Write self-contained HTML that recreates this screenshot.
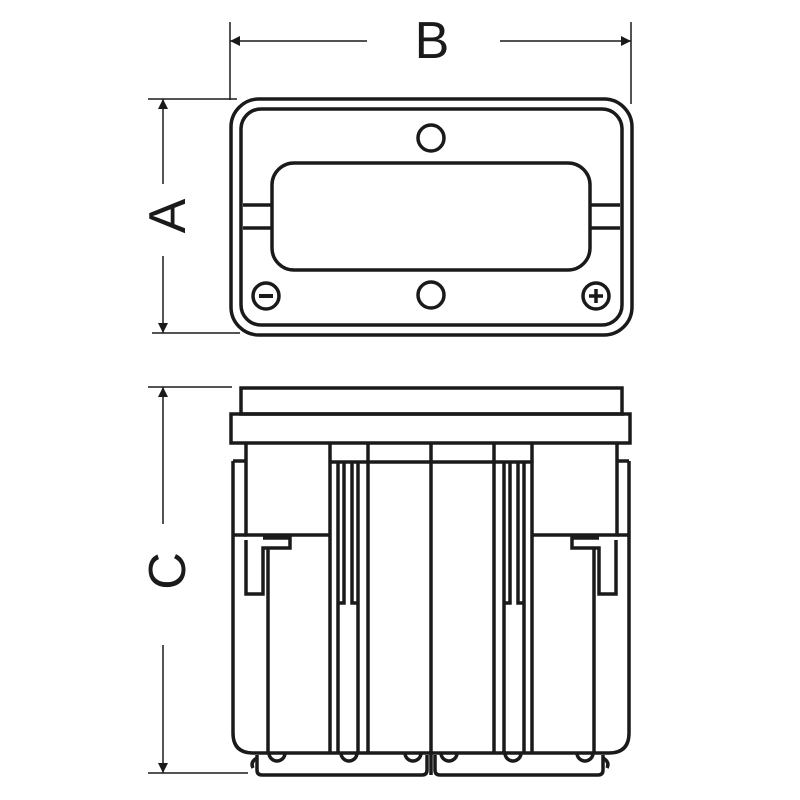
<!DOCTYPE html>
<html><head><meta charset="utf-8"><style>html,body{margin:0;padding:0;background:#fff}svg{display:block}</style></head>
<body>
<svg width="800" height="800" viewBox="0 0 800 800" xmlns="http://www.w3.org/2000/svg">
<defs>
<marker id="ar" viewBox="0 0 10 10" refX="10" refY="5" markerWidth="16" markerHeight="10" markerUnits="userSpaceOnUse" orient="auto"><path d="M0,0 L10,5 L0,10 z" fill="#1a1a1a"/></marker>
</defs>
<g stroke="#1a1a1a" fill="none">
<g stroke-width="1.5">
<line x1="230" y1="22" x2="230" y2="100"/>
<line x1="631" y1="22" x2="631" y2="104"/>
<line x1="367" y1="41" x2="230" y2="41" marker-end="url(#ar)"/>
<line x1="500" y1="41" x2="631" y2="41" marker-end="url(#ar)"/>
<line x1="148" y1="99" x2="237" y2="99"/>
<line x1="152" y1="333" x2="240" y2="333"/>
<line x1="163" y1="184" x2="163" y2="99" marker-end="url(#ar)"/>
<line x1="163" y1="256" x2="163" y2="333" marker-end="url(#ar)"/>
<line x1="148" y1="387" x2="232" y2="387"/>
<line x1="148" y1="773" x2="248" y2="773"/>
<line x1="163" y1="524" x2="163" y2="387" marker-end="url(#ar)"/>
<line x1="163" y1="645" x2="163" y2="773" marker-end="url(#ar)"/>
</g>
<g stroke-width="3.5">
<rect x="231" y="99" width="401" height="236" rx="28"/>
<rect x="241" y="109" width="381" height="216" rx="20"/>
<rect x="272" y="163" width="318" height="107" rx="22"/>
<line x1="243" y1="205" x2="272" y2="205"/><line x1="243" y1="228" x2="272" y2="228"/>
<line x1="590" y1="205" x2="620" y2="205"/><line x1="590" y1="228" x2="620" y2="228"/>
<circle cx="431" cy="138" r="13"/>
<circle cx="431" cy="295" r="13"/>
<circle cx="266" cy="296" r="13"/>
<circle cx="596" cy="296" r="13"/>
<line x1="259" y1="296" x2="273" y2="296" stroke-width="4"/>
<line x1="589" y1="296" x2="603" y2="296"/><line x1="596" y1="289" x2="596" y2="303"/>
</g>
<g stroke-width="3.5" stroke-linejoin="miter">
<rect x="241" y="388" width="381" height="26"/>
<rect x="231" y="414" width="399" height="29"/>
<path d="M233,461 V733 Q233,753 253,753 H609 Q629,753 629,733 V461"/>
<line x1="233" y1="461" x2="246" y2="461"/><line x1="617" y1="461" x2="629" y2="461"/>
<path d="M246,443 V535 H330"/><path d="M617,443 V535 H532"/>
<line x1="233" y1="535" x2="246" y2="535"/><line x1="617" y1="535" x2="629" y2="535"/>
<line x1="330" y1="443" x2="330" y2="753"/><line x1="532" y1="443" x2="532" y2="753"/>
<line x1="368" y1="443" x2="368" y2="753"/><line x1="494" y1="443" x2="494" y2="753"/>
<line x1="431" y1="443" x2="431" y2="775"/>
<line x1="330" y1="462" x2="532" y2="462"/>
<path d="M338,462 V753 M358,462 V753" />
<path d="M344,462 V603 H338 M352,462 V603 H358"/>
<path d="M524,462 V753 M504,462 V753"/>
<path d="M518,462 V603 H524 M510,462 V603 H504"/>
<path d="M246,540 V594 H263 V548 H290 V538 H263"/>
<line x1="268" y1="548" x2="268" y2="753"/>
<path d="M616,540 V594 H599 V548 H572 V538 H599"/>
<line x1="594" y1="548" x2="594" y2="753"/>
<path d="M257,755 V770 Q257,775 262,775 H422 Q427,775 427,770 V755"/>
<path d="M435,755 V770 Q435,775 440,775 H598 Q603,775 603,770 V755"/>
<path d="M257,758 Q250,762 253,768"/><path d="M603,758 Q610,762 607,768"/>
<path d="M269,753 a8,8 0 0 0 16,0"/>
<path d="M341,753 a8,8 0 0 0 16,0"/>
<path d="M405,753 a8,8 0 0 0 16,0"/>
<path d="M441,753 a8,8 0 0 0 16,0"/>
<path d="M505,753 a8,8 0 0 0 16,0"/>
<path d="M577,753 a8,8 0 0 0 16,0"/>
</g>
</g>
<g font-family="Liberation Sans, sans-serif" font-size="52" fill="#1a1a1a" text-anchor="middle">
<text x="432" y="58">B</text>
<text transform="translate(185,216) rotate(-90)">A</text>
<text transform="translate(185,571) rotate(-90)">C</text>
</g>
</svg>
</body></html>
